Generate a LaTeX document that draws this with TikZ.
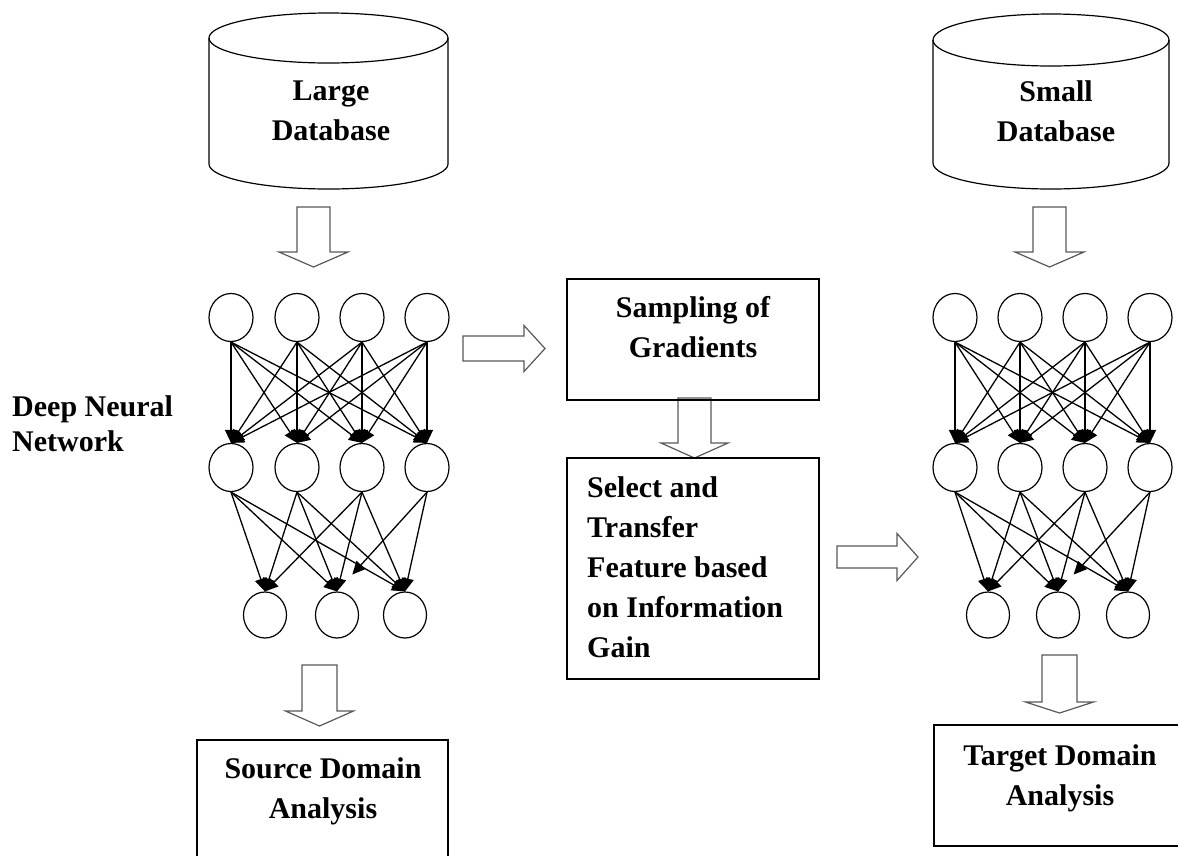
\documentclass[tikz,border=0pt]{standalone}
\usepackage{fontspec}
\setmainfont{Liberation Serif}
\usetikzlibrary{arrows.meta,shapes.geometric,calc}
\newcommand\BlkDown[6]{% x, ytop, yhead, ytip, shaft half, head half
  \draw[blk] (#1-#5,#2) -- (#1-#5,#3) -- (#1-#6,#3) -- (#1,#4) -- (#1+#6,#3) -- (#1+#5,#3) -- (#1+#5,#2) -- cycle;}
\newcommand\BlkRight[6]{% y, xleft, xhead, xtip, shaft half, head half
  \draw[blk] (#2,#1-#5) -- (#3,#1-#5) -- (#3,#1-#6) -- (#4,#1) -- (#3,#1+#6) -- (#3,#1+#5) -- (#2,#1+#5) -- cycle;}
\newcommand\DbCyl[5]{% xleft, xright, ytop centre, ybottom centre, ry
  \draw[cyl] ({(#1+#2)/2},#3) ellipse [x radius={(#2-#1)/2*1pt}, y radius=#5pt];
  \draw[cyl] (#1,#3) -- (#1,#4) arc [start angle=180, end angle=360, x radius={(#2-#1)/2*1pt}, y radius=#5pt] -- (#2,#3);}
\begin{document}
\begin{tikzpicture}[x=1pt,y=-1pt,
  neuron/.style={draw, ellipse, line width=1.2pt, minimum width=44pt, minimum height=48pt, inner sep=0pt, fill=white},
  conn/.style={line width=1.3pt, -{Triangle[length=13pt,width=12pt]}},
  lbl/.style={font=\bfseries\fontsize{30}{40}\selectfont, inner sep=0pt},
  box/.style={draw, line width=1.2pt, rectangle, inner sep=0pt},
  blk/.style={draw=black!65, line width=1.2pt, fill=white, line join=miter},
  cyl/.style={line width=1.2pt}]
\useasboundingbox (0,0) rectangle (1178,855);
\fill[white] (0,0) rectangle (1178,855);

% databases
\DbCyl{209}{448}{38}{164}{25}
\DbCyl{933}{1169}{40}{163}{26}
\node[lbl, align=center] (ldbt) at (331,111) {Large\\Database};
\node[lbl, align=center] (rdbt) at (1056,111) {Small\\Database};

% block arrows
\BlkDown{313.5}{207}{252}{267}{16.5}{34.5}
\BlkDown{1049.5}{207}{252}{267}{16.5}{34.5}
\BlkDown{694.5}{398}{443}{458}{16.5}{33.5}
\BlkDown{319.5}{665}{711}{726}{17.5}{34}
\BlkDown{1059.5}{655}{702}{713}{17.5}{34}
\BlkRight{348.5}{463}{524}{545}{12.5}{23}
\BlkRight{557}{837}{897}{918}{11}{23.5}

% left network
\foreach \n/\x in {1/231,2/297,3/362,4/427}{
  \node[neuron] (lt\n) at (\x,317.5) {};
  \node[neuron] (lm\n) at (\x,467.5) {};
}
\foreach \n/\x in {1/265,2/337,3/405}{
  \node[neuron, minimum width=43pt, minimum height=46pt] (lb\n) at (\x,615) {};
}
% right network
\foreach \n/\x in {1/955,2/1020,3/1085,4/1150}{
  \node[neuron] (rt\n) at (\x,317.5) {};
  \node[neuron] (rm\n) at (\x,467.5) {};
}
\foreach \n/\x in {1/988,2/1058,3/1128}{
  \node[neuron, minimum width=43pt, minimum height=46pt] (rb\n) at (\x,615) {};
}
\coordinate (ls) at ($(lm4.south)!0.83!(lb2.north)$);
\coordinate (rs) at ($(rm4.south)!0.83!(rb2.north)$);
\foreach \s in {l,r}{
  \foreach \i in {1,...,4}{\foreach \j in {1,...,4}{\draw[conn] (\s t\i.south) -- (\s m\j.north);}}
  \foreach \i in {1,2,3}{\foreach \j in {1,2,3}{\draw[conn] (\s m\i.south) -- (\s b\j.north);}}
  \draw[conn] (\s m4.south) -- (\s s);
  \draw[conn] (\s m4.south) -- (\s b3.north);
}

\node[lbl, font=\bfseries\fontsize{30}{35}\selectfont, align=left, anchor=west] (dnn) at (12,424) {Deep Neural\\Network};

% process boxes
\node[box, minimum width=252pt, minimum height=121pt] (samp) at (693,339.5) {};
\node[lbl, align=center] (sampt) at (693,327) {Sampling of\\Gradients};
\node[box, minimum width=252pt, minimum height=221pt] (sel) at (693,568.5) {};
\node[lbl, align=left, anchor=west] (selt) at (587,567) {Select and\\Transfer\\Feature based\\on Information\\Gain};

% result boxes
\node[box, minimum width=251pt, minimum height=140pt] (src) at (322.5,810) {};
\node[lbl, align=center] (srct) at (323,791) {Source Domain\\Analysis};
\node[box, minimum width=266pt, minimum height=121pt] (tgt) at (1067,785.5) {};
\node[lbl, align=center] (tgtt) at (1060,778) {Target Domain\\Analysis};
\end{tikzpicture}
\end{document}
